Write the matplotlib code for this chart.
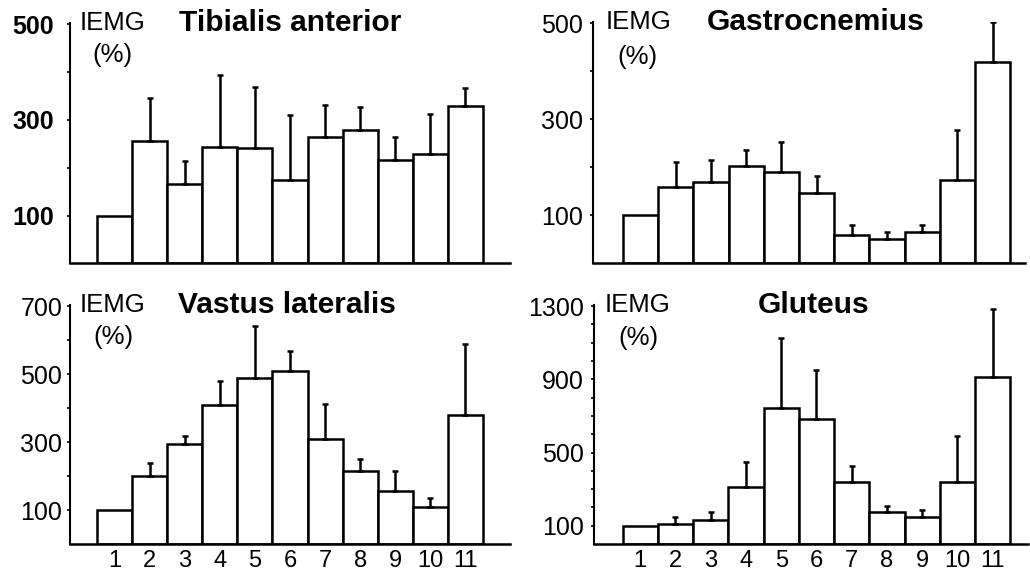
"""Four-panel IEMG bar chart (Tibialis anterior, Gastrocnemius, Vastus lateralis, Gluteus)."""
import matplotlib.pyplot as plt
import numpy as np

plt.rcParams["font.family"] = ["Liberation Sans", "DejaVu Sans"]

positions = np.arange(1, 12)
tick_labels = [str(i) for i in positions]

# bar heights (mean) and top of the error bar
ta_mean = [100, 256, 167, 244, 242, 175, 264, 278, 217, 229, 330]
ta_top = [100, 346, 214, 394, 368, 310, 331, 328, 264, 312, 367]

ga_mean = [100, 159, 169, 203, 190, 147, 60, 51, 65, 173, 419]
ga_top = [100, 212, 215, 237, 252, 183, 80, 65, 80, 278, 503]

vl_mean = [100, 200, 293, 410, 488, 510, 308, 214, 157, 110, 379]
vl_top = [100, 239, 318, 480, 641, 568, 411, 251, 214, 134, 588]

gl_mean = [100, 107, 131, 314, 745, 684, 340, 176, 147, 340, 913]
gl_top = [100, 147, 176, 446, 1127, 949, 428, 205, 186, 590, 1287]

W, H = 1030, 573
fig = plt.figure(figsize=(W / 100, H / 100), dpi=100)


def px_axes(left, right, bottom, top):
    return fig.add_axes([left / W, 1 - bottom / H, (right - left) / W, (bottom - top) / H])


panels = [
    # name, mean, top, ymax, major labels, minor step, axes px box, xlim, bold ticks, show x labels, label pad
    ("Tibialis anterior", ta_mean, ta_top, 500, [100, 300, 500], 100,
     (70, 510, 263.5, 23), (-0.27, 12.27), True, False, 9),
    ("Gastrocnemius", ga_mean, ga_top, 500, [100, 300, 500], 100,
     (593, 1025, 263.5, 22), (-0.35, 11.92), False, False, 5),
    ("Vastus lateralis", vl_mean, vl_top, 700, [100, 300, 500, 700], 100,
     (70, 510, 544, 305), (-0.27, 12.27), False, True, 3),
    ("Gluteus", gl_mean, gl_top, 1300, [100, 500, 900, 1300], 100,
     (594, 1028, 544, 305), (-0.31, 12.0), False, True, 5),
]

text_pos = {
    "Tibialis anterior": ((80, 23), (92, 55), (290, 23)),
    "Gastrocnemius": ((606, 22), (617, 57), (816, 22)),
    "Vastus lateralis": ((80, 305), (93, 337), (287, 305)),
    "Gluteus": ((605, 305), (618, 338), (814, 305)),
}

for name, mean, top, ymax, majors, step, box, xlim, bold, xlab, pad in panels:
    ax = px_axes(*box)
    mean = np.asarray(mean)
    err = np.asarray(top) - mean
    ax.bar(positions, mean, width=1.0, color="white", edgecolor="black",
           linewidth=1.8, zorder=2)
    ax.errorbar(positions[err > 0], mean[err > 0], yerr=[np.zeros((err > 0).sum()), err[err > 0]],
                fmt="none", ecolor="black", elinewidth=1.8, capsize=2.5, capthick=1.8, zorder=3)
    ax.set_xlim(*xlim)
    ax.set_ylim(0, ymax * 1.005)
    ax.set_yticks(majors)
    ax.set_yticks(np.arange(step, ymax + 1, step), minor=True)
    ax.tick_params(axis="y", which="both", length=2.5, width=1.2, pad=pad,
                   labelsize=18)
    if bold:
        for lab in ax.get_yticklabels():
            lab.set_fontweight("bold")
    ax.set_xticks(positions)
    if xlab:
        ax.set_xticklabels(tick_labels)
        ax.tick_params(axis="x", length=0, pad=4, labelsize=17)
    else:
        ax.tick_params(axis="x", length=0, labelbottom=False)
    for s in ("top", "right"):
        ax.spines[s].set_visible(False)
    ax.spines["left"].set_linewidth(1.5)
    ax.spines["bottom"].set_linewidth(1.8)

    (ix, iy), (px_, py_), (tx, ty) = text_pos[name]
    fig.text(ix / W, 1 - iy / H, "IEMG", fontsize=18.5, ha="left", va="center")
    fig.text(px_ / W, 1 - py_ / H, "(%)", fontsize=18.5, ha="left", va="center")
    fig.text(tx / W, 1 - ty / H, name, fontsize=21.5, fontweight="bold",
             ha="center", va="center")

fig.savefig("out.png", dpi=100)
